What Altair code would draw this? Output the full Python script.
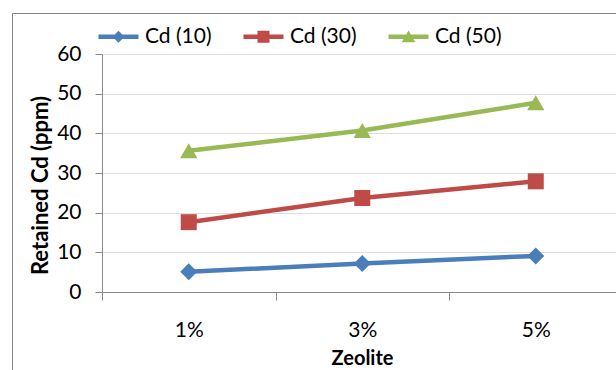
import altair as alt
import pandas as pd

# Zeolite dose on the x axis, retained cadmium per initial Cd level
categories = ["1%", "3%", "5%"]
series = ["Cd (10)", "Cd (30)", "Cd (50)"]
cd10 = [5.1, 7.2, 9.1]
cd30 = [17.6, 23.7, 27.9]
cd50 = [35.6, 40.7, 47.7]

colors = ["#4A7EBB", "#BE4B48", "#98B954"]
marker_shapes = ["diamond", "square", "triangle-up"]
marker_sizes = [289, 256, 300]

# legend keys: a short line with the series marker on it
legend_paths = [
    "M-2,-0.22H2V0.22H-2Z M0,-0.6L0.6,0L0,0.6L-0.6,0Z",
    "M-2,-0.22H2V0.22H-2Z M-0.6,-0.6H0.6V0.6H-0.6Z",
    "M-2,-0.22H2V0.22H-2Z M0,-0.62L0.68,0.56L-0.68,0.56Z",
]

rows = []
for name, vals in zip(series, [cd10, cd30, cd50]):
    for cat, v in zip(categories, vals):
        rows.append({"zeolite": cat, "series": name, "value": v})
df = pd.DataFrame(rows)

FONT = "Lato"
GRAY = "#878787"
LABEL_SIZE = 21

x_enc = alt.X(
    "zeolite:N",
    sort=categories,
    scale=alt.Scale(type="band", domain=categories, range=[0, 520.5],
                    paddingInner=0, paddingOuter=0),
    axis=alt.Axis(
        title="Zeolite", labelAngle=0, tickBand="extent", grid=False,
        tickSize=8, labelPadding=19, labelFontSize=LABEL_SIZE, labelFont=FONT,
        titleFont=FONT, titleFontSize=20, titleFontWeight="bold",
        titleX=260, titleY=66, titleBaseline="middle",
    ),
)
y_enc = alt.Y(
    "value:Q",
    scale=alt.Scale(domain=[0, 60], nice=False),
    axis=alt.Axis(
        title="Retained Cd (ppm)", values=[0, 10, 20, 30, 40, 50, 60],
        tickSize=7, labelPadding=14, labelFontSize=LABEL_SIZE, labelFont=FONT,
        titleFont=FONT, titleFontSize=22, titleFontWeight="bold",
        titleX=-62, titleY=131, titleAngle=-90, titleAlign="center",
        titleBaseline="middle",
    ),
)
color_scale = alt.Scale(domain=series, range=colors)

base = alt.Chart(df)

lines = base.mark_line(strokeWidth=4.5).encode(
    x=x_enc, y=y_enc,
    color=alt.Color("series:N", scale=color_scale, legend=None),
)

marker_layers = []
for name, shp, sz in zip(series, marker_shapes, marker_sizes):
    marker_layers.append(
        base.transform_filter(alt.datum.series == name)
        .mark_point(filled=True, opacity=1, shape=shp, size=sz)
        .encode(
            x=x_enc, y=y_enc,
            color=alt.Color("series:N", scale=color_scale, legend=None),
        )
    )

key_legend = alt.Legend(
    title=None, orient="none", direction="horizontal",
    legendX=6, legendY=-28, symbolSize=400, symbolStrokeWidth=0,
    symbolOpacity=1, labelFont=FONT, labelFontSize=LABEL_SIZE,
    labelColor="black", labelOffset=16, columnPadding=31,
)

# invisible marks that only carry the legend (line + marker keys)
legend_layer = base.mark_point(filled=True, opacity=0).encode(
    x=x_enc, y=y_enc,
    color=alt.Color("series:N", scale=color_scale, legend=key_legend),
    shape=alt.Shape(
        "series:N", scale=alt.Scale(domain=series, range=legend_paths),
        legend=key_legend,
    ),
)

# chart-area frame (left and top edges)
one = alt.Chart(pd.DataFrame({"k": [0]}))
frame_left = one.mark_rule(color=GRAY, strokeWidth=1).encode(
    x=alt.value(-89.5), y=alt.value(-40.5), y2=alt.value(400)
)
frame_top = one.mark_rule(color=GRAY, strokeWidth=1).encode(
    x=alt.value(-89.5), x2=alt.value(600), y=alt.value(-40.5)
)

chart = alt.layer(
    frame_left, frame_top, lines, *marker_layers, legend_layer
).resolve_scale(
    color="independent", shape="independent"
).resolve_legend(
    color="independent", shape="independent"
).properties(
    width=514,
    height=238,
    padding={"left": 102, "top": 54, "right": 0, "bottom": 78},
    autosize=alt.AutoSizeParams(type="none"),
).configure_view(
    stroke=None
).configure_axis(
    domainColor=GRAY, tickColor=GRAY, gridColor=GRAY, gridWidth=1,
    domainWidth=1, tickWidth=1, labelColor="black", titleColor="black",
).configure(
    background="white"
)

chart.save("out.html", embed_options={"renderer": "svg", "actions": False})
